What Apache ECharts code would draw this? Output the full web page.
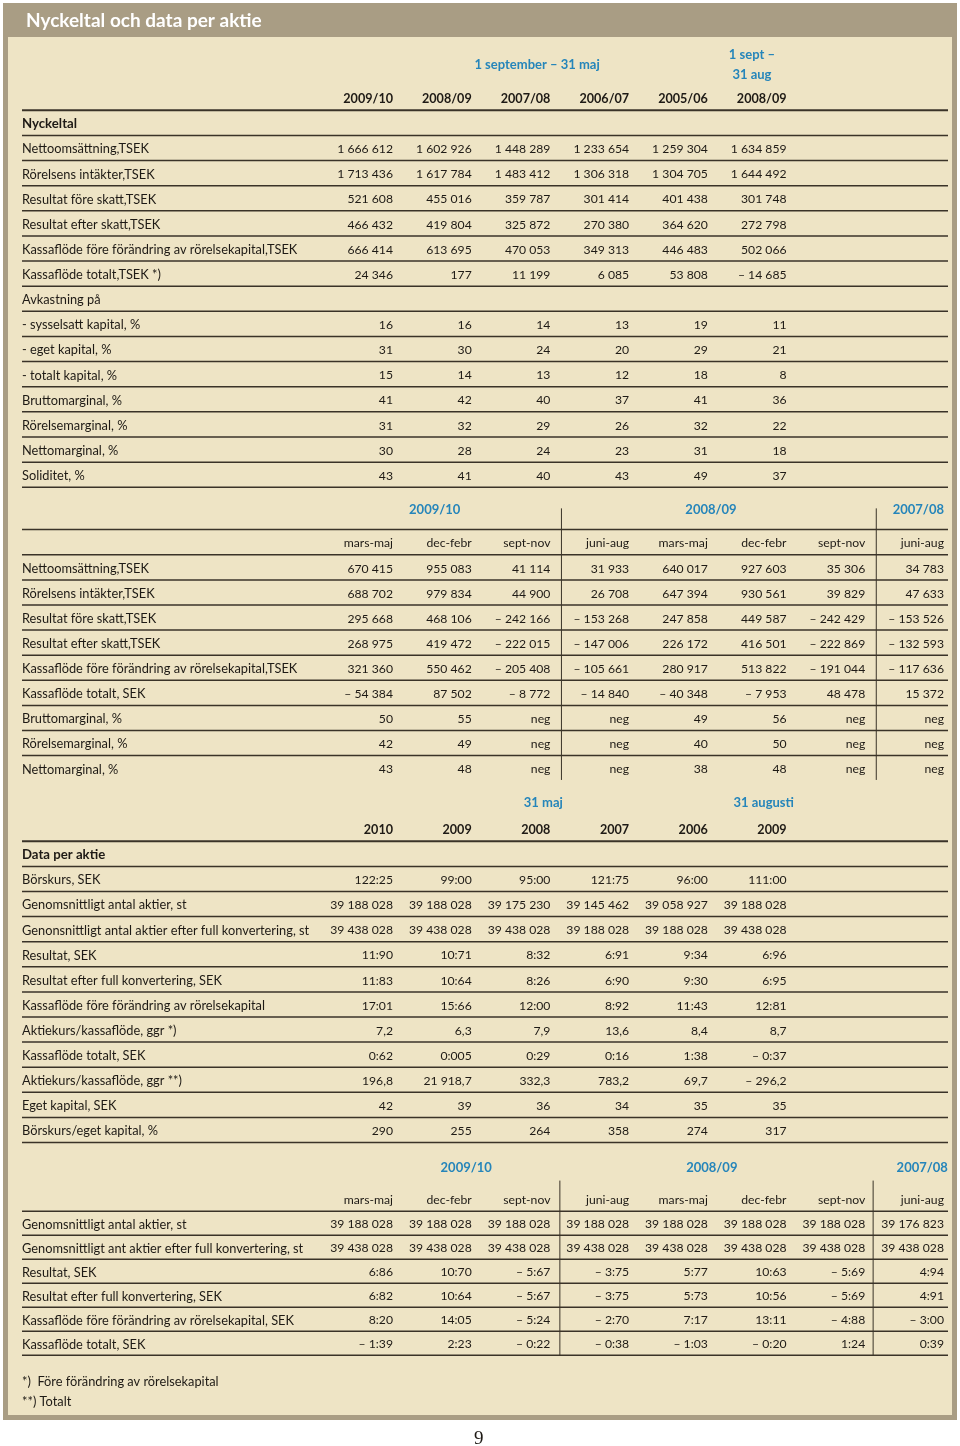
<!DOCTYPE html>
<html><head><meta charset="utf-8">
<script src="https://cdn.jsdelivr.net/npm/echarts/dist/echarts.min.js"></script>
<style>html,body{margin:0;padding:0;background:#fff}#c{width:960px;height:1446px}</style>
</head><body><div id="c"></div>
<script>
// ---------------- DATA ----------------
const pageTitle = 'Nyckeltal och data per aktie';

const s1Groups = ['1 september – 31 maj', '1 sept –\n31 aug'];
const s1Years = ['2009/10', '2008/09', '2007/08', '2006/07', '2005/06', '2008/09'];
const s1Heading = 'Nyckeltal';
const s1Labels = ['Nettoomsättning,TSEK', 'Rörelsens intäkter,TSEK', 'Resultat före skatt,TSEK',
  'Resultat efter skatt,TSEK', 'Kassaflöde före förändring av rörelsekapital,TSEK', 'Kassaflöde totalt,TSEK *)',
  'Avkastning på', '- sysselsatt kapital, %', '- eget kapital, %', '- totalt kapital, %',
  'Bruttomarginal, %', 'Rörelsemarginal, %', 'Nettomarginal, %', 'Soliditet, %'];
const s1Values = [
  ['1 666 612', '1 602 926', '1 448 289', '1 233 654', '1 259 304', '1 634 859'],
  ['1 713 436', '1 617 784', '1 483 412', '1 306 318', '1 304 705', '1 644 492'],
  ['521 608', '455 016', '359 787', '301 414', '401 438', '301 748'],
  ['466 432', '419 804', '325 872', '270 380', '364 620', '272 798'],
  ['666 414', '613 695', '470 053', '349 313', '446 483', '502 066'],
  ['24 346', '177', '11 199', '6 085', '53 808', '– 14 685'],
  [],
  ['16', '16', '14', '13', '19', '11'],
  ['31', '30', '24', '20', '29', '21'],
  ['15', '14', '13', '12', '18', '8'],
  ['41', '42', '40', '37', '41', '36'],
  ['31', '32', '29', '26', '32', '22'],
  ['30', '28', '24', '23', '31', '18'],
  ['43', '41', '40', '43', '49', '37']
];

const s2Groups = ['2009/10', '2008/09', '2007/08'];
const s2Periods = ['mars-maj', 'dec-febr', 'sept-nov', 'juni-aug', 'mars-maj', 'dec-febr', 'sept-nov', 'juni-aug'];
const s2Labels = ['Nettoomsättning,TSEK', 'Rörelsens intäkter,TSEK', 'Resultat före skatt,TSEK',
  'Resultat efter skatt,TSEK', 'Kassaflöde före förändring av rörelsekapital,TSEK', 'Kassaflöde totalt, SEK',
  'Bruttomarginal, %', 'Rörelsemarginal, %', 'Nettomarginal, %'];
const s2Values = [
  ['670 415', '955 083', '41 114', '31 933', '640 017', '927 603', '35 306', '34 783'],
  ['688 702', '979 834', '44 900', '26 708', '647 394', '930 561', '39 829', '47 633'],
  ['295 668', '468 106', '– 242 166', '– 153 268', '247 858', '449 587', '– 242 429', '– 153 526'],
  ['268 975', '419 472', '– 222 015', '– 147 006', '226 172', '416 501', '– 222 869', '– 132 593'],
  ['321 360', '550 462', '– 205 408', '– 105 661', '280 917', '513 822', '– 191 044', '– 117 636'],
  ['– 54 384', '87 502', '– 8 772', '– 14 840', '– 40 348', '– 7 953', '48 478', '15 372'],
  ['50', '55', 'neg', 'neg', '49', '56', 'neg', 'neg'],
  ['42', '49', 'neg', 'neg', '40', '50', 'neg', 'neg'],
  ['43', '48', 'neg', 'neg', '38', '48', 'neg', 'neg']
];

const s3Groups = ['31 maj', '31 augusti'];
const s3Years = ['2010', '2009', '2008', '2007', '2006', '2009'];
const s3Heading = 'Data per aktie';
const s3Labels = ['Börskurs, SEK', 'Genomsnittligt antal aktier, st', 'Genonsnittligt antal aktier efter full konvertering, st',
  'Resultat, SEK', 'Resultat efter full konvertering, SEK', 'Kassaflöde före förändring av rörelsekapital',
  'Aktiekurs/kassaflöde, ggr *)', 'Kassaflöde totalt, SEK', 'Aktiekurs/kassaflöde, ggr **)',
  'Eget kapital, SEK', 'Börskurs/eget kapital, %'];
const s3Values = [
  ['122:25', '99:00', '95:00', '121:75', '96:00', '111:00'],
  ['39 188 028', '39 188 028', '39 175 230', '39 145 462', '39 058 927', '39 188 028'],
  ['39 438 028', '39 438 028', '39 438 028', '39 188 028', '39 188 028', '39 438 028'],
  ['11:90', '10:71', '8:32', '6:91', '9:34', '6:96'],
  ['11:83', '10:64', '8:26', '6:90', '9:30', '6:95'],
  ['17:01', '15:66', '12:00', '8:92', '11:43', '12:81'],
  ['7,2', '6,3', '7,9', '13,6', '8,4', '8,7'],
  ['0:62', '0:005', '0:29', '0:16', '1:38', '– 0:37'],
  ['196,8', '21 918,7', '332,3', '783,2', '69,7', '– 296,2'],
  ['42', '39', '36', '34', '35', '35'],
  ['290', '255', '264', '358', '274', '317']
];

const s4Groups = ['2009/10', '2008/09', '2007/08'];
const s4Periods = ['mars-maj', 'dec-febr', 'sept-nov', 'juni-aug', 'mars-maj', 'dec-febr', 'sept-nov', 'juni-aug'];
const s4Labels = ['Genomsnittligt antal aktier, st', 'Genomsnittligt ant aktier efter full konvertering, st',
  'Resultat, SEK', 'Resultat efter full konvertering, SEK', 'Kassaflöde före förändring av rörelsekapital, SEK',
  'Kassaflöde totalt, SEK'];
const s4Values = [
  ['39 188 028', '39 188 028', '39 188 028', '39 188 028', '39 188 028', '39 188 028', '39 188 028', '39 176 823'],
  ['39 438 028', '39 438 028', '39 438 028', '39 438 028', '39 438 028', '39 438 028', '39 438 028', '39 438 028'],
  ['6:86', '10:70', '– 5:67', '– 3:75', '5:77', '10:63', '– 5:69', '4:94'],
  ['6:82', '10:64', '– 5:67', '– 3:75', '5:73', '10:56', '– 5:69', '4:91'],
  ['8:20', '14:05', '– 5:24', '– 2:70', '7:17', '13:11', '– 4:88', '– 3:00'],
  ['– 1:39', '2:23', '– 0:22', '– 0:38', '– 1:03', '– 0:20', '1:24', '0:39']
];

const footnotes = ['*)  Före förändring av rörelsekapital', '**) Totalt'];
const pageNumber = '9';

// ---------------- LAYOUT ----------------
const LEFT = 22, RIGHT_EDGE = 948;
const COL0_RIGHT = 393, COL_STEP = 78.71;
const XMIN = (LEFT - COL0_RIGHT) / COL_STEP;
const XMAX = (RIGHT_EDGE - COL0_RIGHT) / COL_STEP;
const FONT = 'Lato, "Open Sans", sans-serif';
const INK = '#1e1a15';
const BLUE = '#2585ba';
const RULE = '#3a3328';
const CREAM = '#eee4c5';
const TAN = '#a99d84';

const STYLES = {
  label: { align: 'left', fontSize: 12.8, fontWeight: 'normal', fill: INK },
  head:  { align: 'left', fontSize: 13.2, fontWeight: 'bold', fill: INK },
  num:   { align: 'right', fontSize: 12.2, fontWeight: 'normal', fill: INK },
  year:  { align: 'right', fontSize: 12.6, fontWeight: 'bold', fill: INK },
  blueC: { align: 'center', fontSize: 13, fontWeight: 'bold', fill: BLUE, lineHeight: 20 },
  blueR: { align: 'right', fontSize: 13, fontWeight: 'bold', fill: BLUE, lineHeight: 20 }
};

const sections = [];

function addSection(cfg) {
  const items = [];
  const lines = [];
  cfg.groups.forEach((g, i) => items.push({ x: cfg.groupX[i], y: cfg.groupRow, text: g, kind: cfg.groupKind[i] }));
  cfg.header.forEach((h, i) => items.push({ x: i, y: 0, text: h, kind: cfg.headerBold ? 'year' : 'num' }));
  let r = 1;
  if (cfg.heading) { items.push({ x: XMIN, y: 1, text: cfg.heading, kind: 'head' }); r = 2; }
  cfg.labels.forEach((lab, i) => {
    items.push({ x: XMIN, y: r + i, text: lab, kind: 'label' });
    (cfg.values[i] || []).forEach((v, j) => items.push({ x: j, y: r + i, text: v, kind: 'num' }));
  });
  const nRows = r + cfg.labels.length;
  cfg.hLines.forEach(b => lines.push([XMIN, b, XMAX, b, b === 0.45 && cfg.thickHeader ? 2 : 1.5]));
  cfg.vLines.forEach(v => lines.push([v[0], v[1], v[0], v[2], 1]));
  sections.push({ y0: cfg.y0, sp: cfg.sp, nRows, items, lines });
}

function range(a, b) { const o = []; for (let k = a; k <= b; k++) o.push(k + 0.45); return o; }

addSection({
  y0: 99, sp: 25.13, groups: s1Groups, groupX: [1.83, 4.56], groupRow: -1.35, groupKind: ['blueC', 'blueC'],
  header: s1Years, headerBold: true, heading: s1Heading, labels: s1Labels, values: s1Values,
  hLines: range(0, 15), vLines: [], thickHeader: true
});
addSection({
  y0: 543.5, sp: 25.1, groups: s2Groups, groupX: [0.53, 4.04, 7], groupRow: -1.33, groupKind: ['blueC', 'blueC', 'blueR'],
  header: s2Periods, headerBold: false, heading: null, labels: s2Labels, values: s2Values,
  hLines: [-0.56].concat(range(0, 8)), vLines: [[2.14, -1.4, 9.42], [6.14, -1.4, 9.42]]
});
addSection({
  y0: 830, sp: 25.1, groups: s3Groups, groupX: [1.91, 4.71], groupRow: -1.1, groupKind: ['blueC', 'blueC'],
  header: s3Years, headerBold: true, heading: s3Heading, labels: s3Labels, values: s3Values,
  hLines: range(0, 12), vLines: [], thickHeader: true
});
addSection({
  y0: 1200.5, sp: 24, groups: s4Groups, groupX: [0.93, 4.05, 7.05], groupRow: -1.37, groupKind: ['blueC', 'blueC', 'blueR'],
  header: s4Periods, headerBold: false, heading: null, labels: s4Labels, values: s4Values,
  hLines: range(0, 6), vLines: [[2.12, -0.83, 6.45], [6.1, -0.83, 6.45]]
});

// ---------------- OPTION ----------------
const grid = [], xAxis = [], yAxis = [], series = [];
sections.forEach((s, i) => {
  grid.push({ left: LEFT, width: RIGHT_EDGE - LEFT, top: s.y0 - s.sp / 2, height: s.nRows * s.sp, containLabel: false });
  xAxis.push({ type: 'value', gridIndex: i, min: XMIN, max: XMAX, show: false });
  yAxis.push({ type: 'value', gridIndex: i, min: -0.5, max: s.nRows - 0.5, inverse: true, show: false });
  series.push({
    type: 'custom', xAxisIndex: i, yAxisIndex: i, silent: true, clip: false, z: 3,
    data: s.lines.map(l => [l[0], l[1], l[2], l[3]]),
    encode: { x: [0, 2], y: [1, 3] },
    renderItem: (params, api) => {
      const l = s.lines[params.dataIndex];
      const a = api.coord([l[0], l[1]]), b = api.coord([l[2], l[3]]);
      return { type: 'line', shape: { x1: a[0], y1: a[1], x2: b[0], y2: b[1] }, style: { stroke: RULE, lineWidth: l[4] } };
    }
  });
  series.push({
    type: 'custom', xAxisIndex: i, yAxisIndex: i, silent: true, clip: false, z: 4,
    data: s.items.map(t => [t.x, t.y]),
    encode: { x: 0, y: 1 },
    renderItem: (params, api) => {
      const t = s.items[params.dataIndex];
      const p = api.coord([t.x, t.y]);
      const st = STYLES[t.kind];
      return {
        type: 'text', x: p[0], y: p[1],
        style: { text: t.text, align: st.align, verticalAlign: 'middle', fontSize: st.fontSize,
          fontWeight: st.fontWeight, fontFamily: FONT, fill: st.fill, lineHeight: st.lineHeight }
      };
    }
  });
});

const option = {
  backgroundColor: '#ffffff',
  animation: false,
  title: [
    { text: pageTitle, left: 26, top: 11, padding: 0, textStyle: { color: '#ffffff', fontSize: 19, fontWeight: 'bold', fontFamily: FONT } },
    { text: footnotes[0], left: 22, top: 1375, padding: 0, textStyle: { color: INK, fontSize: 12.8, fontWeight: 'normal', fontFamily: FONT } },
    { text: footnotes[1], left: 22, top: 1395, padding: 0, textStyle: { color: INK, fontSize: 12.8, fontWeight: 'normal', fontFamily: FONT } },
    { text: pageNumber, left: 474, top: 1430, padding: 0, textStyle: { color: INK, fontSize: 19, fontWeight: 'normal', fontFamily: '"Liberation Serif", serif' } }
  ],
  graphic: [
    { type: 'rect', z: -10, shape: { x: 3, y: 3, width: 954, height: 1417 }, style: { fill: TAN } },
    { type: 'rect', z: -9, shape: { x: 8, y: 37, width: 944, height: 1378 }, style: { fill: CREAM } }
  ],
  grid, xAxis, yAxis, series
};

const chart = echarts.init(document.getElementById('c'), null, { renderer: 'canvas' });
chart.setOption(option);
</script>
</body></html>
